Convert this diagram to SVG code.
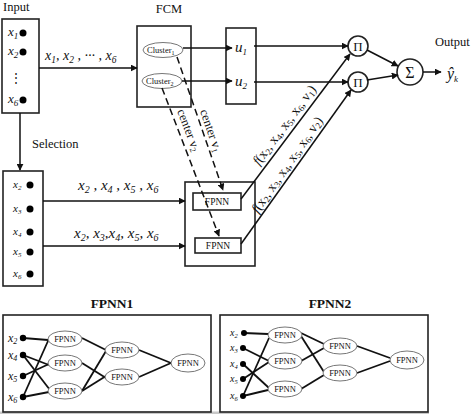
<svg xmlns="http://www.w3.org/2000/svg" width="474" height="414" viewBox="0 0 474 414">
<defs>
<style>
.box{fill:none;stroke:#222;stroke-width:1.6}
.ln{fill:none;stroke:#111;stroke-width:1.5}
.dash{fill:none;stroke:#111;stroke-width:1.5;stroke-dasharray:7,4}
.net{fill:none;stroke:#111;stroke-width:1.8}
.ell{fill:#fff;stroke:#666;stroke-width:0.9}
.t{font-family:"Liberation Serif","DejaVu Serif",serif;fill:#111}
.m{font-family:"Liberation Serif","DejaVu Serif",serif;font-style:italic;fill:#111}
.b{font-family:"Liberation Serif","DejaVu Serif",serif;font-weight:bold;fill:#111}
.dot{fill:#000}
</style>
<marker id="ah" viewBox="0 0 10 10" refX="9" refY="5" markerWidth="7" markerHeight="7" markerUnits="userSpaceOnUse" orient="auto">
<path d="M0,0 L10,5 L0,10 z" fill="#111"/>
</marker>
</defs>
<rect width="474" height="414" fill="#fff"/>

<g id="input">
<text class="t" x="3" y="11" font-size="12.5">Input</text>
<rect class="box" x="2" y="19" width="37" height="94"/>
<text class="m" x="8" y="36" font-size="13">x<tspan font-size="9" dy="3">1</tspan></text>
<circle class="dot" cx="23" cy="33" r="3.5"/>
<text class="m" x="8" y="55" font-size="13">x<tspan font-size="9" dy="3">2</tspan></text>
<circle class="dot" cx="23" cy="52" r="3.5"/>
<text class="t" x="10" y="82" font-size="12">⋮</text>
<text class="m" x="8" y="103" font-size="13">x<tspan font-size="9" dy="3">6</tspan></text>
<circle class="dot" cx="23" cy="100" r="3.5"/>
</g>

<g id="fcm">
<text class="t" x="169" y="13" font-size="12.5" text-anchor="middle">FCM</text>
<rect class="box" x="137" y="26" width="54" height="81"/>
<ellipse class="ell" cx="163" cy="50" rx="20" ry="7.5"/>
<text class="t" x="147" y="53" font-size="8.5">Cluster<tspan font-size="6" dy="2">1</tspan></text>
<ellipse class="ell" cx="162" cy="81" rx="20" ry="7.5"/>
<text class="t" x="146" y="84" font-size="8.5">Cluster<tspan font-size="6" dy="2">2</tspan></text>
</g>

<g id="u">
<rect class="box" x="226" y="28" width="30" height="76"/>
<text class="m" x="235" y="52" font-size="15">u<tspan font-size="9" dy="3">1</tspan></text>
<text class="m" x="235" y="86" font-size="15">u<tspan font-size="9" dy="3">2</tspan></text>
</g>

<g id="pi1">
<circle class="box" cx="358" cy="46" r="10"/>
<text class="t" x="358" y="51" font-size="13" text-anchor="middle">Π</text>
</g>
<g id="pi2">
<circle class="box" cx="358" cy="82" r="10"/>
<text class="t" x="358" y="87" font-size="13" text-anchor="middle">Π</text>
</g>
<g id="sigma">
<circle class="box" cx="410" cy="72" r="13"/>
<text class="t" x="410" y="78" font-size="16" text-anchor="middle">Σ</text>
</g>
<g id="output">
<text class="t" x="435" y="46" font-size="12.5">Output</text>
<text class="m" x="447" y="79" font-size="16">ŷ<tspan font-size="9" dy="3">k</tspan></text>
</g>

<g id="selection">
<text class="t" x="32" y="148" font-size="12.5">Selection</text>
<rect class="box" x="3" y="171" width="40" height="115"/>
<text class="m" x="13" y="188" font-size="11">x<tspan font-size="7" dy="2">2</tspan></text>
<circle class="dot" cx="30" cy="185" r="3.5"/>
<text class="m" x="13" y="212" font-size="11">x<tspan font-size="7" dy="2">3</tspan></text>
<circle class="dot" cx="30" cy="209" r="3.5"/>
<text class="m" x="13" y="235" font-size="11">x<tspan font-size="7" dy="2">4</tspan></text>
<circle class="dot" cx="30" cy="232" r="3.5"/>
<text class="m" x="13" y="255" font-size="11">x<tspan font-size="7" dy="2">5</tspan></text>
<circle class="dot" cx="30" cy="252" r="3.5"/>
<text class="m" x="13" y="277" font-size="11">x<tspan font-size="7" dy="2">6</tspan></text>
<circle class="dot" cx="30" cy="274" r="3.5"/>
</g>

<g id="fpnn-block">
<rect class="box" x="185" y="182" width="70" height="84"/>
<rect class="box" x="193" y="193" width="48" height="17" stroke-width="1.2"/>
<text class="t" x="217" y="205" font-size="9.5" text-anchor="middle">FPNN</text>
<rect class="box" x="195" y="238" width="46" height="15" stroke-width="1.2"/>
<text class="t" x="218" y="249" font-size="9.5" text-anchor="middle">FPNN</text>
</g>

<g id="connectors">
<line class="ln" x1="39" y1="68" x2="137" y2="68" marker-end="url(#ah)"/>
<text class="m" x="45" y="60" font-size="14">x<tspan font-size="9.5" dy="3">1</tspan><tspan dy="-3">, x</tspan><tspan font-size="9.5" dy="3">2</tspan><tspan dy="-3"> , ··· , x</tspan><tspan font-size="9.5" dy="3">6</tspan></text>
<line class="ln" x1="20" y1="113" x2="20" y2="170" marker-end="url(#ah)"/>
<line class="ln" x1="183" y1="48" x2="232" y2="48" marker-end="url(#ah)"/>
<line class="ln" x1="182" y1="81" x2="232" y2="81" marker-end="url(#ah)"/>
<line class="ln" x1="254" y1="46" x2="348" y2="46" marker-end="url(#ah)"/>
<line class="ln" x1="254" y1="82" x2="348" y2="82" marker-end="url(#ah)"/>
<line class="ln" x1="367" y1="50" x2="398" y2="66" marker-end="url(#ah)"/>
<line class="ln" x1="367" y1="80" x2="398" y2="75" marker-end="url(#ah)"/>
<line class="ln" x1="423" y1="72" x2="441" y2="72" marker-end="url(#ah)"/>
<line class="ln" x1="43" y1="201" x2="185" y2="201" marker-end="url(#ah)"/>
<text class="m" x="78" y="190" font-size="15">x<tspan font-size="10" dy="3">2</tspan><tspan dy="-3"> , x</tspan><tspan font-size="10" dy="3">4</tspan><tspan dy="-3"> , x</tspan><tspan font-size="10" dy="3">5</tspan><tspan dy="-3"> , x</tspan><tspan font-size="10" dy="3">6</tspan></text>
<line class="ln" x1="43" y1="246" x2="185" y2="246" marker-end="url(#ah)"/>
<text class="m" x="74" y="238" font-size="15">x<tspan font-size="10" dy="3">2</tspan><tspan dy="-3">, x</tspan><tspan font-size="10" dy="3">3</tspan><tspan dy="-3">,x</tspan><tspan font-size="10" dy="3">4</tspan><tspan dy="-3">, x</tspan><tspan font-size="10" dy="3">5</tspan><tspan dy="-3">, x</tspan><tspan font-size="10" dy="3">6</tspan></text>
<line class="dash" x1="177" y1="57" x2="223" y2="190" marker-end="url(#ah)"/>
<text class="t" font-size="12.5" transform="translate(200,111) rotate(71)">center v<tspan font-size="8.5" dy="2">1</tspan></text>
<line class="dash" x1="162" y1="88" x2="219" y2="236" marker-end="url(#ah)"/>
<text class="t" font-size="12.5" transform="translate(177,111) rotate(69)">center v<tspan font-size="8.5" dy="2">2</tspan></text>
<line class="ln" x1="241" y1="199" x2="350" y2="54" marker-end="url(#ah)"/>
<text class="t" font-size="13.5" transform="translate(259,166) rotate(-53)"><tspan font-style="italic">f</tspan>(x<tspan font-size="9" dy="2">2</tspan><tspan dy="-2">, x</tspan><tspan font-size="9" dy="2">4</tspan><tspan dy="-2">, x</tspan><tspan font-size="9" dy="2">5</tspan><tspan dy="-2">, x</tspan><tspan font-size="9" dy="2">6</tspan><tspan dy="-2">, v</tspan><tspan font-size="9" dy="2">1</tspan><tspan dy="-2">)</tspan></text>
<line class="ln" x1="241" y1="244" x2="351" y2="90" marker-end="url(#ah)"/>
<text class="t" font-size="13.5" transform="translate(258,214) rotate(-55)"><tspan font-style="italic">f</tspan>(x<tspan font-size="9" dy="2">2</tspan><tspan dy="-2">, x</tspan><tspan font-size="9" dy="2">3</tspan><tspan dy="-2">, x</tspan><tspan font-size="9" dy="2">4</tspan><tspan dy="-2">, x</tspan><tspan font-size="9" dy="2">5</tspan><tspan dy="-2">, x</tspan><tspan font-size="9" dy="2">6</tspan><tspan dy="-2">, v</tspan><tspan font-size="9" dy="2">2</tspan><tspan dy="-2">)</tspan></text>
</g>

<rect x="0" y="411.5" width="429" height="2.5" fill="#c8c8c8"/>

<g id="fpnn1-panel">
<text class="b" x="112" y="308" font-size="13.5" text-anchor="middle">FPNN1</text>
<rect class="box" x="3" y="315" width="208" height="97"/>
<g class="net">
<line x1="23" y1="338" x2="48" y2="340"/>
<line x1="23" y1="397" x2="48" y2="341"/>
<line x1="23" y1="355" x2="49" y2="365"/>
<line x1="23" y1="376" x2="49" y2="364"/>
<line x1="23" y1="355" x2="50" y2="390"/>
<line x1="23" y1="397" x2="49" y2="392"/>
<line x1="82" y1="338" x2="106" y2="350"/>
<line x1="82" y1="363" x2="106" y2="378"/>
<line x1="82" y1="391" x2="106" y2="351"/>
<line x1="82" y1="391" x2="106" y2="376"/>
<line x1="139" y1="350" x2="171" y2="363"/>
<line x1="139" y1="377" x2="171" y2="363"/>
</g>
<text class="m" x="8" y="342" font-size="12">x<tspan font-size="8" dy="2">2</tspan></text>
<text class="m" x="8" y="359" font-size="12">x<tspan font-size="8" dy="2">4</tspan></text>
<text class="m" x="8" y="380" font-size="12">x<tspan font-size="8" dy="2">5</tspan></text>
<text class="m" x="8" y="401" font-size="12">x<tspan font-size="8" dy="2">6</tspan></text>
<circle class="dot" cx="23" cy="338" r="3.2"/>
<circle class="dot" cx="23" cy="355" r="3.2"/>
<circle class="dot" cx="23" cy="376" r="3.2"/>
<circle class="dot" cx="23" cy="397" r="3.2"/>
<g id="f1n1"><ellipse class="ell" cx="65" cy="339" rx="17" ry="8"/><text class="t" x="65" y="342" font-size="8.5" text-anchor="middle">FPNN</text></g>
<g id="f1n2"><ellipse class="ell" cx="65" cy="363" rx="17" ry="8"/><text class="t" x="65" y="366" font-size="8.5" text-anchor="middle">FPNN</text></g>
<g id="f1n3"><ellipse class="ell" cx="65" cy="391" rx="17" ry="8"/><text class="t" x="65" y="394" font-size="8.5" text-anchor="middle">FPNN</text></g>
<g id="f1n4"><ellipse class="ell" cx="122" cy="350" rx="17" ry="8"/><text class="t" x="122" y="353" font-size="8.5" text-anchor="middle">FPNN</text></g>
<g id="f1n5"><ellipse class="ell" cx="122" cy="377" rx="17" ry="8"/><text class="t" x="122" y="380" font-size="8.5" text-anchor="middle">FPNN</text></g>
<g id="f1n6"><ellipse class="ell" cx="188" cy="363" rx="17" ry="9"/><text class="t" x="188" y="366" font-size="8.5" text-anchor="middle">FPNN</text></g>
</g>

<g id="fpnn2-panel">
<text class="b" x="330" y="308" font-size="13.5" text-anchor="middle">FPNN2</text>
<rect class="box" x="220" y="315" width="208" height="97"/>
<g class="net">
<line x1="244" y1="333" x2="268" y2="334"/>
<line x1="243" y1="396" x2="269" y2="338"/>
<line x1="243" y1="348" x2="269" y2="361"/>
<line x1="243" y1="379" x2="269" y2="362"/>
<line x1="243" y1="364" x2="269" y2="388"/>
<line x1="243" y1="396" x2="268" y2="390"/>
<line x1="301" y1="333" x2="324" y2="344"/>
<line x1="301" y1="336" x2="324" y2="372"/>
<line x1="301" y1="361" x2="324" y2="348"/>
<line x1="301" y1="389" x2="324" y2="375"/>
<line x1="357" y1="346" x2="390" y2="358"/>
<line x1="357" y1="373" x2="390" y2="361"/>
</g>
<text class="m" x="230" y="336" font-size="10">x<tspan font-size="6.5" dy="2">2</tspan></text>
<text class="m" x="230" y="351" font-size="10">x<tspan font-size="6.5" dy="2">3</tspan></text>
<text class="m" x="230" y="367" font-size="10">x<tspan font-size="6.5" dy="2">4</tspan></text>
<text class="m" x="230" y="382" font-size="10">x<tspan font-size="6.5" dy="2">5</tspan></text>
<text class="m" x="230" y="399" font-size="10">x<tspan font-size="6.5" dy="2">6</tspan></text>
<circle class="dot" cx="244" cy="333" r="3"/>
<circle class="dot" cx="243" cy="348" r="3"/>
<circle class="dot" cx="243" cy="364" r="3"/>
<circle class="dot" cx="243" cy="379" r="3"/>
<circle class="dot" cx="243" cy="396" r="3"/>
<g id="f2n1"><ellipse class="ell" cx="285" cy="335" rx="17" ry="8"/><text class="t" x="285" y="338" font-size="8.5" text-anchor="middle">FPNN</text></g>
<g id="f2n2"><ellipse class="ell" cx="285" cy="361" rx="17" ry="8"/><text class="t" x="285" y="364" font-size="8.5" text-anchor="middle">FPNN</text></g>
<g id="f2n3"><ellipse class="ell" cx="285" cy="389" rx="17" ry="8"/><text class="t" x="285" y="392" font-size="8.5" text-anchor="middle">FPNN</text></g>
<g id="f2n4"><ellipse class="ell" cx="340" cy="346" rx="17" ry="8"/><text class="t" x="340" y="349" font-size="8.5" text-anchor="middle">FPNN</text></g>
<g id="f2n5"><ellipse class="ell" cx="340" cy="373" rx="17" ry="8"/><text class="t" x="340" y="376" font-size="8.5" text-anchor="middle">FPNN</text></g>
<g id="f2n6"><ellipse class="ell" cx="407" cy="360" rx="17" ry="9"/><text class="t" x="407" y="363" font-size="8.5" text-anchor="middle">FPNN</text></g>
</g>
</svg>
